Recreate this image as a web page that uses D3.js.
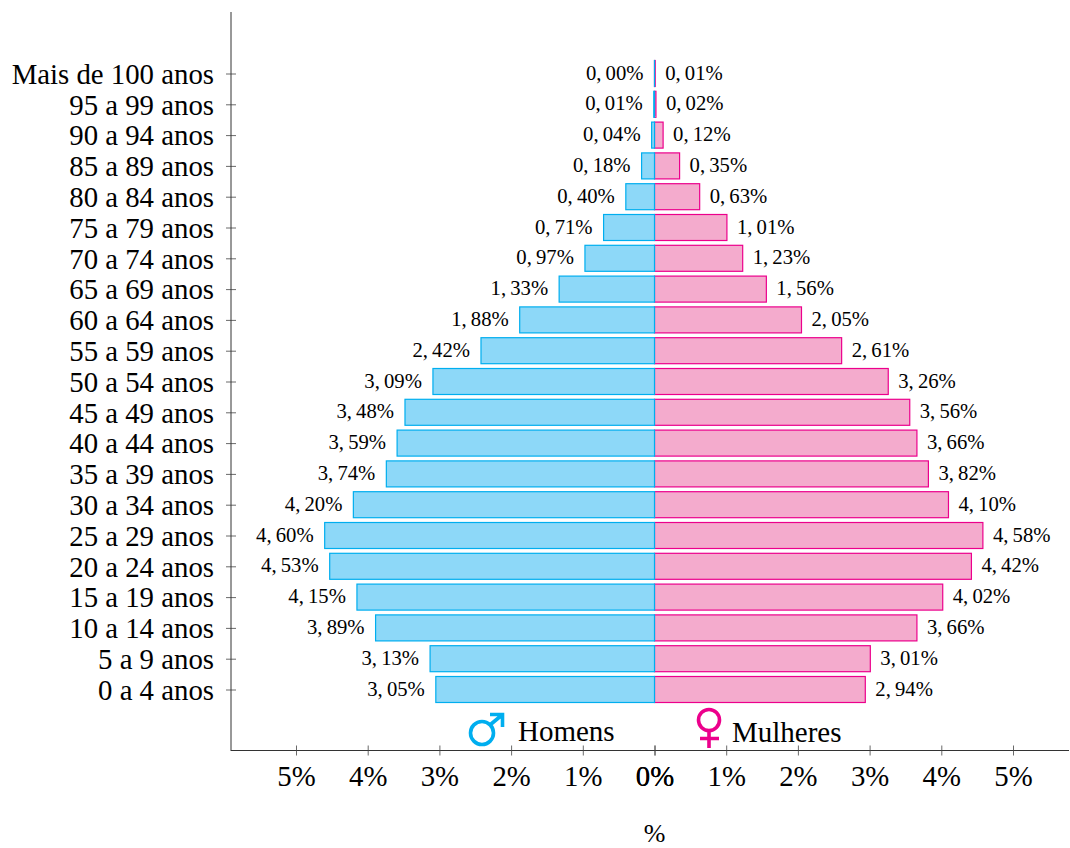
<!DOCTYPE html>
<html lang="pt">
<head>
<meta charset="utf-8">
<title>Pirâmide etária</title>
<script src="https://cdn.jsdelivr.net/npm/d3@7"></script>
<style>
  html, body { margin: 0; padding: 0; background: #fff; overflow: hidden; }
  svg { display: block; }
  text { font-family: "Liberation Serif", serif; fill: #000; }
</style>
</head>
<body>
<div id="grafico"></div>
<script>
// Dados, de baixo para cima
const faixas = ["0 a 4 anos", "5 a 9 anos", "10 a 14 anos", "15 a 19 anos", "20 a 24 anos",
  "25 a 29 anos", "30 a 34 anos", "35 a 39 anos", "40 a 44 anos", "45 a 49 anos",
  "50 a 54 anos", "55 a 59 anos", "60 a 64 anos", "65 a 69 anos", "70 a 74 anos",
  "75 a 79 anos", "80 a 84 anos", "85 a 89 anos", "90 a 94 anos", "95 a 99 anos",
  "Mais de 100 anos"];
const homens = [3.05, 3.13, 3.89, 4.15, 4.53, 4.60, 4.20, 3.74, 3.59, 3.48, 3.09,
  2.42, 1.88, 1.33, 0.97, 0.71, 0.40, 0.18, 0.04, 0.01, 0.00];
const mulheres = [2.94, 3.01, 3.66, 4.02, 4.42, 4.58, 4.10, 3.82, 3.66, 3.56, 3.26,
  2.61, 2.05, 1.56, 1.23, 1.01, 0.63, 0.35, 0.12, 0.02, 0.01];
const ticksHomens = [-5, -4, -3, -2, -1, 0];
const ticksMulheres = [0, 1, 2, 3, 4, 5];

const largura = 1070, altura = 848;
const corHomens = "#00aeef", corMulheres = "#ec008c";
const fundoHomens = "#8dd8f8", fundoMulheres = "#f4abcd";
const alturaBarra = 26;

const svg = d3.select("#grafico").append("svg")
  .attr("width", largura)
  .attr("height", altura);

// Escalas: x em pontos percentuais, y pelo índice da faixa
const x = d3.scaleLinear().domain([-1, 1]).range([654.5 - 71.7, 654.5 + 71.7]);
const y = d3.scaleLinear().domain([0, 20]).range([689.5, 73.5]);

// "3.05" vira "3, 05%" com espaço fino depois da vírgula
const rotulo = v => v.toFixed(2).replace(".", ",\u2009") + "%";

// --- Barras (mulheres primeiro, a linha azul fica por cima no centro) ---
svg.selectAll(".barra-m")
  .data(mulheres)
  .enter().append("rect")
  .attr("class", "barra-m")
  .attr("x", x(0))
  .attr("y", (d, i) => y(i) - alturaBarra / 2)
  .attr("width", d => x(d) - x(0))
  .attr("height", alturaBarra)
  .attr("fill", fundoMulheres)
  .attr("stroke", corMulheres).attr("stroke-width", 1.2);

// rect de largura 0 não é desenhado, por isso o mínimo de 0.01 na barra de 0,00%
svg.selectAll(".barra-h")
  .data(homens)
  .enter().append("rect")
  .attr("class", "barra-h")
  .attr("x", d => x(-d))
  .attr("y", (d, i) => y(i) - alturaBarra / 2)
  .attr("width", d => (x(0) - x(-d)) || 0.01)
  .attr("height", alturaBarra)
  .attr("fill", fundoHomens)
  .attr("stroke", corHomens).attr("stroke-width", 1.2);

// --- Rótulos de valor ---
svg.selectAll(".valor-h")
  .data(homens)
  .enter().append("text")
  .attr("class", "valor-h")
  .attr("x", d => x(-d) - 11)
  .attr("y", (d, i) => y(i) + 6)
  .attr("text-anchor", "end")
  .attr("font-size", 20.7)
  .text(rotulo);

svg.selectAll(".valor-m")
  .data(mulheres)
  .enter().append("text")
  .attr("class", "valor-m")
  .attr("x", d => x(d) + 10)
  .attr("y", (d, i) => y(i) + 6)
  .attr("font-size", 20.7)
  .text(rotulo);

// --- Eixos ---
const eixoY = d3.axisLeft(y)
  .tickValues(d3.range(faixas.length))
  .tickFormat(i => faixas[i])
  .tickSize(0);

const gy = svg.append("g").attr("transform", "translate(231,0)").call(eixoY);
gy.select(".domain").remove();
gy.selectAll("text").attr("x", -17).attr("dy", "0.34em")
  .attr("font-size", 28.8).attr("font-family", '"Liberation Serif", serif');
gy.selectAll("line").attr("x1", -5).attr("x2", 5).attr("stroke", "#444").attr("stroke-width", 0.8);

svg.append("line").attr("x1", 231).attr("x2", 231).attr("y1", 12).attr("y2", 751)
  .attr("stroke", "#333").attr("stroke-width", 1);
svg.append("line").attr("x1", 231).attr("x2", 1069).attr("y1", 750.5).attr("y2", 750.5)
  .attr("stroke", "#333").attr("stroke-width", 1);

// dois eixos x, um para cada lado; o 0% sai desenhado duas vezes, como no original
[ticksHomens, ticksMulheres].forEach(ticks => {
  const eixoX = d3.axisBottom(x)
    .tickValues(ticks)
    .tickFormat(d => Math.abs(d) + "%")
    .tickSize(0);
  const gx = svg.append("g").attr("transform", "translate(0,750.5)").call(eixoX);
  gx.select(".domain").remove();
  gx.selectAll("line").attr("y1", -5).attr("y2", 5).attr("stroke", "#444").attr("stroke-width", 0.8);
  gx.selectAll("text").attr("y", 35.5).attr("dy", 0)
    .attr("font-size", 28.8).attr("font-family", '"Liberation Serif", serif');
});

svg.append("text")
  .attr("x", x(0)).attr("y", 842)
  .attr("text-anchor", "middle")
  .attr("font-size", 26)
  .text("%");

// --- Legenda ---
const simboloH = svg.append("g").attr("fill", "none").attr("stroke", corHomens).attr("stroke-width", 3.6);
simboloH.append("circle").attr("cx", 482).attr("cy", 733).attr("r", 11.5);
simboloH.append("path").attr("d", "M490.5,724.5L502,715M490,714.5H502.5V727");

const simboloM = svg.append("g").attr("fill", "none").attr("stroke", corMulheres).attr("stroke-width", 3.6);
simboloM.append("circle").attr("cx", 709).attr("cy", 720).attr("r", 10.5);
simboloM.append("path").attr("d", "M709,731V748M700,738.5H719");

svg.append("text").attr("x", 518).attr("y", 741).attr("font-size", 29).text("Homens");
svg.append("text").attr("x", 732).attr("y", 742).attr("font-size", 29).text("Mulheres");
</script>
</body>
</html>
